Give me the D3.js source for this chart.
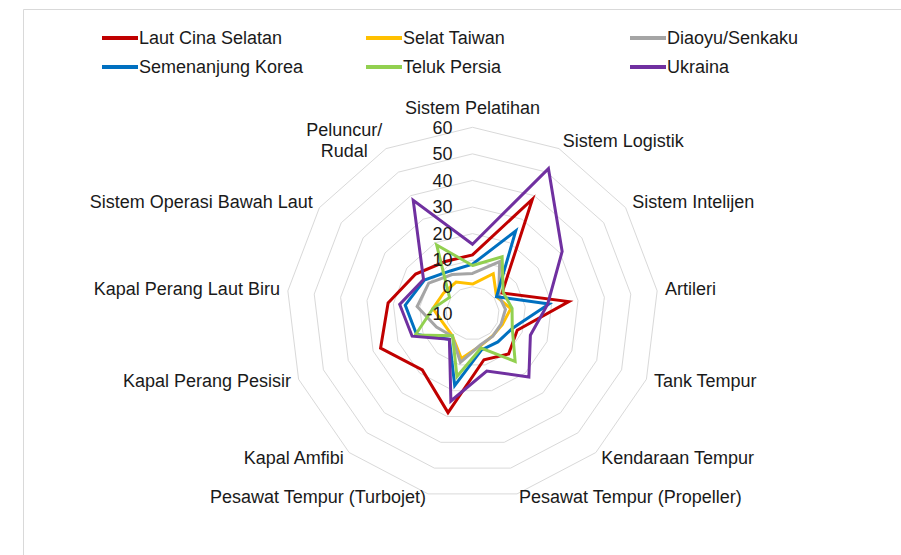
<!DOCTYPE html>
<html>
<head>
<meta charset="utf-8">
<script src="https://cdn.jsdelivr.net/npm/d3@7"></script>
<style>
  html, body { margin: 0; padding: 0; background: #ffffff; }
  svg { display: block; font-family: "Liberation Sans", Arial, sans-serif; }
</style>
</head>
<body>
<svg id="chart" width="901" height="555"></svg>
<script>
// ---- data ----
const categories = [
  "Sistem Pelatihan", "Sistem Logistik", "Sistem Intelijen", "Artileri",
  "Tank Tempur", "Kendaraan Tempur", "Pesawat Tempur (Propeller)",
  "Pesawat Tempur (Turbojet)", "Kapal Amfibi", "Kapal Perang Pesisir",
  "Kapal Perang Laut Biru", "Sistem Operasi Bawah Laut", "Peluncur/ Rudal"
];
const seriesNames = ["Laut Cina Selatan", "Selat Taiwan", "Diaoyu/Senkaku",
                     "Semenanjung Korea", "Teluk Persia", "Ukraina"];
const lautCinaSelatan  = [12, 38.5, 3.5, 26.5, 8, 10.5, 8, 28.5, 18.5, 27, 22, 16, 12];
const selatTaiwan      = [1, 6.8, 1, 4.5, 2, 1.4, 2.6, 7.5, 1.4, 1.5, 5, 3.3, 3.3];
const diaoyuSenkaku    = [5, 12, 2, 2.5, 1.5, 1.5, 2.3, 9, 1.5, 4.5, 11, 10, 6.5];
const semenanjungKorea = [8.5, 25, 1, 19, 6, 4.4, 4.2, 18, 3.1, 12.5, 15.5, 12, 8];
const telukPersia      = [8, 14, 4, 5, 6, 14.2, 3.5, 14.5, 1.3, 13, 5, 0.5, 19];
const ukraina          = [16, 51.5, 31, 18.5, 13.3, 22, 12.4, 24, 3.1, 14.3, 17.6, 12.4, 38];
const tickValues = [-10, 0, 10, 20, 30, 40, 50, 60];
const colors = ["#C00000", "#FFC000", "#A5A5A5", "#0070C0", "#92D050", "#7030A0"];

const seriesValues = [lautCinaSelatan, selatTaiwan, diaoyuSenkaku,
                      semenanjungKorea, telukPersia, ukraina];

// ---- layout ----
const svg = d3.select("#chart");
const cx = 472.5, cy = 313.3, R = 186;
const r = d3.scaleLinear().domain([-10, 60]).range([0, R]);
const n = categories.length;
const angle = d3.scaleLinear().domain([0, n]).range([0, 2 * Math.PI]);
const FS = 18;

// chart area border
svg.append("path")
  .attr("d", "M23.5,555 L23.5,9.5 L901,9.5")
  .attr("fill", "none").attr("stroke", "#d9d9d9").attr("stroke-width", 1);

const g = svg.append("g").attr("transform", `translate(${cx},${cy})`);

// grid rings
const ring = d3.lineRadial().curve(d3.curveLinearClosed)
  .angle((d, i) => angle(i)).radius(d => r(d));
tickValues.filter(t => t > -10).forEach(t => {
  g.append("path")
    .attr("d", ring(categories.map(() => t)))
    .attr("fill", "none").attr("stroke", "#d9d9d9").attr("stroke-width", 1);
});

// series
const line = d3.lineRadial().curve(d3.curveLinearClosed)
  .angle((d, i) => angle(i)).radius(d => r(d));
seriesValues.forEach((vals, k) => {
  g.append("path")
    .attr("d", line(vals))
    .attr("fill", "none")
    .attr("stroke", colors[k])
    .attr("stroke-width", 3)
    .attr("stroke-linejoin", "miter");
});

// tick labels
g.selectAll("text.tick").data(tickValues).enter().append("text")
  .attr("class", "tick")
  .attr("x", -20)
  .attr("y", d => -r(d))
  .attr("dy", "0.35em")
  .attr("text-anchor", "end")
  .attr("font-size", FS)
  .attr("fill", "#1a1a1a")
  .text(d => d);

// category labels
categories.forEach((c, i) => {
  const a = angle(i);
  const s = Math.sin(a), co = Math.cos(a);
  const px = (R + 8) * s, py = -(R + 8) * co;
  let anchor = "middle", yc = py - 1;
  if (s > 0.05) anchor = "start";
  else if (s < -0.05) anchor = "end";
  if (co > 0.99) yc = py - 12;
  if (co < -0.9) yc = py - 5;
  const parts = c.includes("/ ") ? c.split(/(?<=\/) /) : [c];
  const t = g.append("text")
    .attr("font-size", FS).attr("fill", "#1a1a1a");
  if (parts.length === 1) {
    t.attr("x", px).attr("y", yc).attr("dy", "0.35em")
      .attr("text-anchor", anchor).text(c);
  } else {
    // wrapped label, lines centered within the block
    const lh = 21;
    const tmp = g.append("text").attr("font-size", FS).text(parts[0]);
    const w = tmp.node().getComputedTextLength();
    tmp.remove();
    const bx = anchor === "end" ? px - w / 2 : (anchor === "start" ? px + w / 2 : px);
    t.attr("text-anchor", "middle");
    parts.forEach((p, j) => {
      t.append("tspan").attr("x", bx)
        .attr("y", yc + (j - (parts.length - 1) / 2) * lh)
        .attr("dy", "0.35em").text(p);
    });
  }
});

// legend
const legendX = [102, 366, 630], legendY = [38, 67];
seriesNames.forEach((name, k) => {
  const col = k % 3, row = Math.floor(k / 3);
  const lx = legendX[col], ly = legendY[row];
  svg.append("line")
    .attr("x1", lx).attr("x2", lx + 36).attr("y1", ly).attr("y2", ly)
    .attr("stroke", colors[k]).attr("stroke-width", 4);
  svg.append("text")
    .attr("x", lx + 37).attr("y", ly).attr("dy", "0.35em")
    .attr("font-size", FS).attr("fill", "#1a1a1a")
    .text(name);
});
</script>
</body>
</html>
